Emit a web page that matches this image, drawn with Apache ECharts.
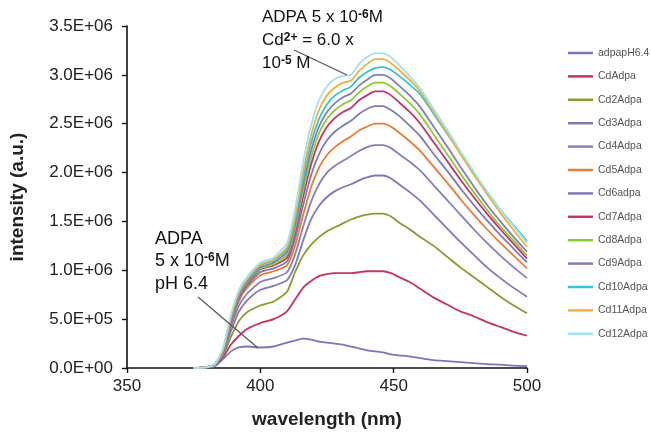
<!DOCTYPE html>
<html>
<head>
<meta charset="utf-8">
<script src="https://cdn.jsdelivr.net/npm/echarts@6/dist/echarts.min.js"></script>
<style>
html,body{margin:0;padding:0;background:#fff;}
#c{width:651px;height:434px;}
</style>
</head>
<body>
<div id="c"></div>
<script>
// wavelength (nm)
const wavelengths = [375,380,383,386,389,392,395,400,405,410,413,416,419,422,425,428,431,434,437,440,443,446,449,452,456,460,465,470,475,480,485,490,495,500];
// intensities in units of 1E+06 (a.u.)
const adpapH64 = [0,0.005,0.02,0.09,0.17,0.21,0.22,0.21,0.22,0.26,0.28,0.30,0.29,0.27,0.26,0.25,0.24,0.22,0.20,0.18,0.17,0.16,0.14,0.13,0.12,0.10,0.08,0.07,0.06,0.05,0.04,0.035,0.025,0.02];
const cdAdpa   = [0,0.01,0.03,0.11,0.24,0.33,0.40,0.46,0.50,0.58,0.70,0.82,0.89,0.94,0.96,0.97,0.97,0.97,0.98,0.99,0.99,0.99,0.97,0.93,0.88,0.81,0.72,0.65,0.58,0.53,0.47,0.42,0.37,0.33];
const cd2Adpa  = [0,0.01,0.03,0.13,0.32,0.48,0.57,0.64,0.68,0.78,0.98,1.15,1.26,1.34,1.40,1.44,1.48,1.52,1.55,1.57,1.58,1.58,1.55,1.49,1.42,1.34,1.25,1.14,1.03,0.93,0.83,0.73,0.64,0.56];
const cd3Adpa  = [0,0.01,0.03,0.15,0.38,0.58,0.69,0.80,0.84,0.90,1.05,1.30,1.52,1.66,1.75,1.81,1.85,1.88,1.92,1.95,1.97,1.97,1.94,1.88,1.80,1.71,1.57,1.43,1.29,1.16,1.03,0.92,0.82,0.73];
const cd4Adpa  = [0,0.01,0.04,0.16,0.42,0.64,0.76,0.88,0.92,0.98,1.16,1.44,1.70,1.88,2.00,2.07,2.12,2.17,2.22,2.26,2.28,2.28,2.25,2.19,2.11,2.02,1.87,1.72,1.57,1.42,1.28,1.15,1.03,0.92];
const cd5Adpa  = [0,0.01,0.04,0.17,0.45,0.69,0.82,0.95,0.99,1.05,1.25,1.56,1.85,2.05,2.18,2.26,2.32,2.37,2.43,2.47,2.50,2.50,2.47,2.41,2.32,2.22,2.06,1.90,1.73,1.57,1.42,1.28,1.15,1.02];
const cd6adpa  = [0,0.01,0.04,0.17,0.47,0.71,0.84,0.98,1.02,1.09,1.32,1.66,1.97,2.19,2.33,2.42,2.48,2.53,2.60,2.65,2.68,2.68,2.64,2.58,2.48,2.37,2.19,2.02,1.84,1.67,1.51,1.36,1.22,1.08];
const cd7Adpa  = [0,0.01,0.04,0.18,0.49,0.73,0.86,1.01,1.05,1.13,1.38,1.75,2.08,2.32,2.47,2.56,2.62,2.66,2.74,2.79,2.83,2.83,2.79,2.72,2.62,2.50,2.31,2.12,1.93,1.75,1.58,1.42,1.27,1.12];
const cd8Adpa  = [0,0.01,0.04,0.18,0.50,0.74,0.87,1.02,1.06,1.16,1.42,1.81,2.15,2.40,2.55,2.64,2.70,2.74,2.82,2.88,2.92,2.92,2.88,2.81,2.71,2.59,2.39,2.19,1.99,1.80,1.62,1.45,1.30,1.15];
const cd9Adpa  = [0,0.01,0.04,0.18,0.51,0.75,0.88,1.03,1.08,1.19,1.46,1.87,2.22,2.47,2.62,2.71,2.77,2.81,2.89,2.95,3.00,3.00,2.96,2.89,2.79,2.67,2.47,2.27,2.06,1.86,1.67,1.50,1.34,1.19];
const cd10Adpa = [0,0.01,0.04,0.19,0.52,0.77,0.90,1.05,1.10,1.22,1.50,1.93,2.30,2.55,2.70,2.79,2.84,2.88,2.97,3.03,3.07,3.08,3.05,2.99,2.90,2.80,2.60,2.40,2.20,1.99,1.80,1.62,1.46,1.30];
const cd11Adpa = [0,0.01,0.04,0.19,0.53,0.78,0.91,1.06,1.11,1.24,1.55,2.00,2.38,2.64,2.79,2.87,2.92,2.94,3.04,3.11,3.16,3.16,3.12,3.05,2.95,2.83,2.62,2.41,2.19,1.98,1.78,1.59,1.41,1.24];
const cd12Adpa = [0,0.01,0.04,0.20,0.55,0.80,0.93,1.08,1.13,1.28,1.62,2.10,2.48,2.74,2.88,2.96,2.99,3.00,3.11,3.18,3.22,3.22,3.18,3.10,2.99,2.86,2.65,2.44,2.22,2.01,1.81,1.62,1.45,1.28];

const seriesNames = ['adpapH6.4','CdAdpa','Cd2Adpa','Cd3Adpa','Cd4Adpa','Cd5Adpa','Cd6adpa','Cd7Adpa','Cd8Adpa','Cd9Adpa','Cd10Adpa','Cd11Adpa','Cd12Adpa'];
const seriesValues = [adpapH64,cdAdpa,cd2Adpa,cd3Adpa,cd4Adpa,cd5Adpa,cd6adpa,cd7Adpa,cd8Adpa,cd9Adpa,cd10Adpa,cd11Adpa,cd12Adpa];
const seriesColors = ['#7b76b8','#c8306c','#8c9a2c','#7c7ab8','#8480bc','#f07a30','#7e7ab8','#c83070','#8ccc30','#8080b8','#30c4d4','#f0b040','#a0e2f2'];

const xTicks = {min:350, max:500, interval:50};
const yTicks = {min:0, max:3.5, interval:0.5};

function sci(v){
  const n = v*1e6;
  if (n === 0) return '0.0E+00';
  const e = Math.floor(Math.log10(n) + 1e-9);
  const m = n/Math.pow(10,e);
  return m.toFixed(1) + 'E+' + String(e).padStart(2,'0');
}

const chart = echarts.init(document.getElementById('c'), null, {renderer:'canvas'});
const FONT = 'Liberation Sans, Arial, sans-serif';
const SUP = {fontSize:12, fontFamily:FONT, fontWeight:'bold', verticalAlign:'top', fill:'#111'};

const series = seriesNames.map((name,i)=>({
  name: name,
  type: 'line',
  showSymbol: false,
  symbol: 'none',
  smooth: 0.2,
  data: wavelengths.map((w,j)=>[w, seriesValues[i][j]]),
  lineStyle: {color: seriesColors[i], width: 1.8},
  itemStyle: {color: seriesColors[i]},
  z: 2 + i
}));

chart.setOption({
  animation: false,
  backgroundColor: '#fff',
  grid: {left:124, right:124, top:26, bottom:65, containLabel:false},
  xAxis: {
    type:'value', min:xTicks.min, max:xTicks.max, interval:xTicks.interval,
    name:'wavelength (nm)', nameLocation:'middle', nameGap:42,
    nameTextStyle:{fontFamily:FONT, fontSize:19, fontWeight:'bold', color:'#222'},
    axisLine:{show:true, onZero:false, lineStyle:{color:'#111', width:1.6}},
    axisTick:{show:true, inside:false, length:5, lineStyle:{color:'#111', width:1.4}},
    axisLabel:{fontFamily:FONT, fontSize:17, color:'#222', margin:10},
    splitLine:{show:false}
  },
  yAxis: {
    type:'value', min:yTicks.min, max:yTicks.max, interval:yTicks.interval,
    name:'intensity (a.u.)', nameLocation:'middle', nameGap:100, nameRotate:90,
    nameTextStyle:{fontFamily:FONT, fontSize:19, fontWeight:'bold', color:'#222'},
    axisLine:{show:true, lineStyle:{color:'#111', width:1.6}},
    axisTick:{show:true, inside:false, length:5, lineStyle:{color:'#111', width:1.4}},
    axisLabel:{fontFamily:FONT, fontSize:17, color:'#222', margin:14, formatter: sci},
    splitLine:{show:false}
  },
  legend: {
    orient:'vertical', left:563, top:42, itemWidth:25, itemHeight:2.5, itemGap:11.4,
    icon:'rect',
    data: seriesNames,
    textStyle:{fontFamily:FONT, fontSize:10.5, color:'#555', lineHeight:12}
  },
  graphic: [
    {type:'line', shape:{x1:294, y1:50, x2:347, y2:75}, style:{stroke:'#555', lineWidth:1.2}, z:100},
    {type:'line', shape:{x1:198, y1:297, x2:258, y2:348}, style:{stroke:'#555', lineWidth:1.2}, z:100},
    {type:'text', left:262, top:9, z:100, style:{text:'ADPA 5 x 10{sup|-6}M', font:'17px '+FONT, fill:'#111', rich:{sup:SUP}}},
    {type:'text', left:262, top:32, z:100, style:{text:'Cd{sup|2+} = 6.0 x', font:'17px '+FONT, fill:'#111', rich:{sup:SUP}}},
    {type:'text', left:262, top:55, z:100, style:{text:'10{sup|-5} M', font:'17px '+FONT, fill:'#111', rich:{sup:SUP}}},
    {type:'text', left:155, top:230, z:100, style:{text:'ADPA', font:'18px '+FONT, fill:'#111'}},
    {type:'text', left:155, top:252, z:100, style:{text:'5 x 10{sup|-6}M', font:'18px '+FONT, fill:'#111', rich:{sup:SUP}}},
    {type:'text', left:155, top:275, z:100, style:{text:'pH 6.4', font:'18px '+FONT, fill:'#111'}}
  ],
  series: series
});
</script>
</body>
</html>
